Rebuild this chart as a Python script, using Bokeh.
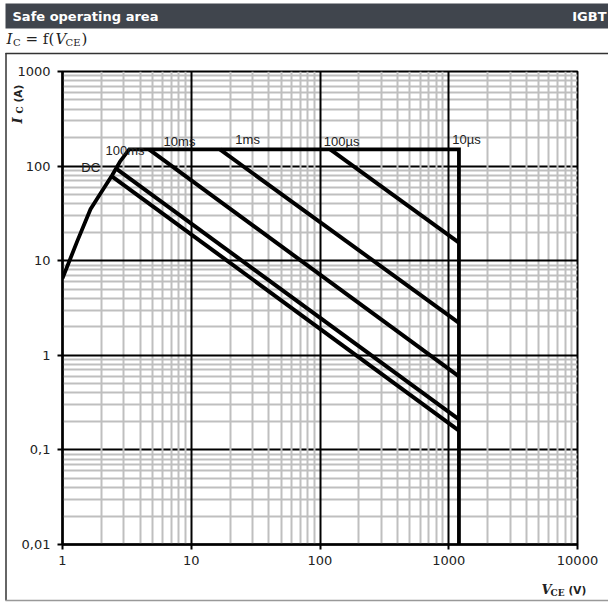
import math
from bokeh.plotting import figure
from bokeh.layouts import column
from bokeh.models import FixedTicker, Grid, ColumnDataSource, Range1d
from bokeh.core.properties import value
from bokeh.embed import file_html
from bokeh.resources import INLINE

# ---------------- data ----------------
x_major = [1, 10, 100, 1000, 10000]
y_major = [0.01, 0.1, 1, 10, 100, 1000]
x_tick_labels = ["1", "10", "100", "1000", "10000"]
y_tick_labels = ["0,01", "0,1", "1", "10", "100", "1000"]

# SOA boundary (rising part, 150 A limit, 1200 V limit)
soa_v = [1, 1.3, 1.65, 2.0, 2.43, 2.8, 3.3, 1200, 1200]
soa_i = [6.5, 16, 35, 53, 80, 112, 150, 150, 0.01]

# pulse-duration limit lines
pulse_names = ["100µs", "1ms", "10ms", "100ms", "DC"]
pulse_v = [[120, 1200], [16.7, 1200], [4.7, 1200], [2.58, 1200], [2.36, 1200]]
pulse_i = [[150, 15.5], [150, 2.2], [150, 0.6], [95, 0.21], [80, 0.16]]

# curve labels
label_text = ["DC", "100ms", "10ms", "1ms", "100µs", "10µs"]
label_v = [1.40, 2.16, 6.1, 22, 107, 1064]
label_i = [96, 145, 184, 193, 181, 191]

x_minor = [m * 10 ** k for k in range(0, 4) for m in range(2, 10)]
y_minor = [m * 10.0 ** k for k in range(-2, 3) for m in range(2, 10)]

W, H = 608, 602
BAR = "#40454d"
RULE = "#333333"
TXT = "#222222"

# ---------------- decoration layer (pixel coordinates, y down) ----------------
bg = figure(width=W, height=H, x_range=Range1d(0, W), y_range=Range1d(H, 0),
            output_backend="svg", toolbar_location=None, min_border=0,
            x_axis_location=None, y_axis_location=None, margin=(0, 0, -H, 0))
bg.frame_align = False
bg.outline_line_color = None
bg.center = []
bg.background_fill_alpha = 0
bg.border_fill_alpha = 0


def txt(x, y, s, font="DejaVu Sans", size="13px", style="normal", color=TXT,
        align="left", angle=0.0):
    bg.text(x=[x], y=[y], text=[s], text_font=value(font), text_font_size=value(size),
            text_font_style=value(style), text_color=value(color), text_align=value(align),
            text_baseline=value("middle"), angle=angle)


bg.quad(left=[5], right=[W], top=[3], bottom=[28], fill_color=BAR, line_color=None)
txt(12, 15.5, "Safe operating area", size="13px", style="bold", color="white")
txt(606, 15.5, "IGBT", size="13px", style="bold", color="white", align="right")
txt(6, 38, "I", font="DejaVu Serif", size="15px", style="italic")
txt(12.5, 42, "C", font="DejaVu Serif", size="10px")
txt(25, 38, "= f(", font="DejaVu Serif", size="15px")
txt(55, 38, "V", font="DejaVu Serif", size="15px", style="italic")
txt(65, 42, "CE", font="DejaVu Serif", size="10px")
txt(81, 38, ")", font="DejaVu Serif", size="15px")
bg.line([5, W], [53, 53], line_color=RULE, line_width=1.5)
bg.line([5.5, 5.5], [52.5, 600], line_color=RULE, line_width=1.5)
bg.line([5, W], [600, 600], line_color="#999999", line_width=1.5)

# y axis title (rotated)
txt(16.5, 123, "I", font="DejaVu Serif", size="13px", style="bold italic", angle=math.pi / 2)
txt(19.5, 113, "C", font="DejaVu Serif", size="9px", style="bold", angle=math.pi / 2)
txt(17, 102, "(A)", font="DejaVu Sans", size="10.5px", style="bold", angle=math.pi / 2)

# x axis title
txt(541, 589, "V", font="DejaVu Serif", size="13px", style="bold italic")
txt(550, 592, "CE", font="DejaVu Serif", size="9px", style="bold")
txt(568, 589, "(V)", font="DejaVu Sans", size="10.5px", style="bold")

# ---------------- main chart ----------------
p = figure(width=W, height=H, x_axis_type="log", y_axis_type="log",
           x_range=Range1d(1, 10000), y_range=Range1d(0.01, 1000),
           output_backend="svg", toolbar_location=None,
           min_border_left=62, min_border_right=W - 577,
           min_border_top=71, min_border_bottom=H - 544)
p.frame_align = False
p.background_fill_color = "white"
p.border_fill_alpha = 0
p.outline_line_color = "black"
p.outline_line_width = 2
p.center = [r for r in p.center if not isinstance(r, Grid)]

GRAY = "#bfbfbf"
p.add_layout(Grid(dimension=1, ticker=FixedTicker(ticks=[100, 0.1]),
                  grid_line_color="black", grid_line_width=2))
p.add_layout(Grid(dimension=0, ticker=FixedTicker(ticks=x_major, minor_ticks=x_minor),
                  grid_line_color=None, minor_grid_line_color=GRAY, minor_grid_line_width=2))
p.add_layout(Grid(dimension=1, ticker=FixedTicker(ticks=y_major, minor_ticks=y_minor),
                  grid_line_color=None, minor_grid_line_color=GRAY, minor_grid_line_width=2))
p.add_layout(Grid(dimension=0, ticker=FixedTicker(ticks=x_major),
                  grid_line_color="black", grid_line_width=2))
p.add_layout(Grid(dimension=1, ticker=FixedTicker(ticks=[1000, 10, 1, 0.01]),
                  grid_line_color="black", grid_line_width=2))

p.xaxis.ticker = FixedTicker(ticks=x_major)
p.yaxis.ticker = FixedTicker(ticks=y_major)
p.xaxis.major_label_overrides = dict(zip(x_major, x_tick_labels))
p.yaxis.major_label_overrides = dict(zip(y_major, y_tick_labels))
for ax in (p.xaxis, p.yaxis):
    ax.axis_line_color = "black"
    ax.axis_line_width = 2.5
    ax.major_tick_line_color = "black"
    ax.major_tick_line_width = 2
    ax.major_tick_out = 5
    ax.major_tick_in = 0
    ax.minor_tick_line_color = None
    ax.major_label_text_font = "DejaVu Sans"
    ax.major_label_text_font_size = "13px"
    ax.major_label_text_color = TXT
p.xaxis.major_label_standoff = 6
p.yaxis.major_label_standoff = 7

p.line(soa_v, soa_i, line_color="black", line_width=3.8, line_join="miter")
src = ColumnDataSource(dict(xs=pulse_v, ys=pulse_i, name=pulse_names))
p.multi_line(xs="xs", ys="ys", source=src, line_color="black", line_width=4)
p.text(x=label_v, y=label_i, text=label_text, text_font=value("Liberation Sans"),
       text_font_size=value("13px"), text_align="left", text_baseline="middle",
       text_color=TXT)

layout = column(bg, p)
open("out.html", "w").write(file_html(layout, INLINE))
